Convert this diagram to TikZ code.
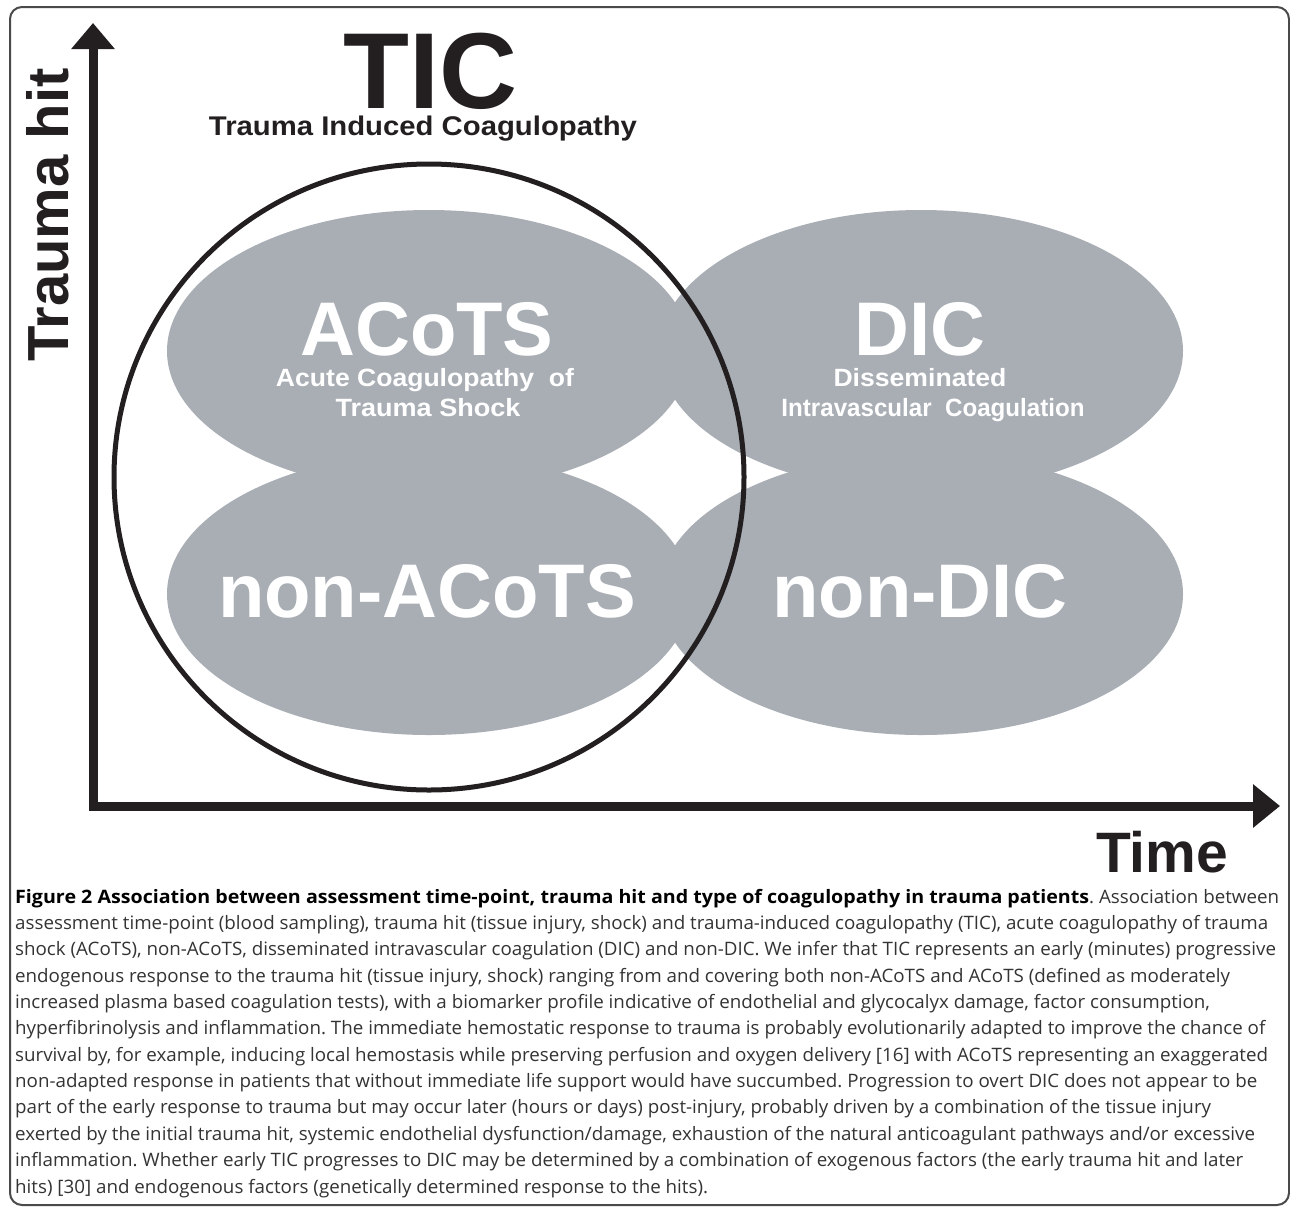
\documentclass[tikz,border=0pt]{standalone}
\usepackage{fontspec}
\usepackage{graphicx}
\setmainfont{Liberation Sans}
\newfontfamily\capfont{Open Sans}
\usetikzlibrary{arrows.meta}
\definecolor{ellgray}{HTML}{A9AEB5}
\definecolor{ink}{HTML}{231F20}
\definecolor{capgray}{HTML}{333333}
\definecolor{framegray}{HTML}{4A4A4A}
\newcommand\wfit[2]{\resizebox{#1}{\height}{#2}}
\newlength\capw
\newcommand\cl[1]{\scalebox{\capstretch}[1]{#1}}
\tikzset{
  ellfill/.style={fill=ellgray},
  bigwhite/.style={font=\bfseries\fontsize{76}{76}\selectfont, text=white, anchor=base, inner sep=0pt, text depth=0pt},
  subwhite/.style={font=\bfseries\fontsize{25}{25}\selectfont, text=white, anchor=base, inner sep=0pt, text depth=0pt},
  axislabel/.style={font=\bfseries\fontsize{57}{57}\selectfont, text=ink, anchor=base, inner sep=0pt},
  capline/.style={font=\capfont\fontsize{18.5}{20}\selectfont\frenchspacing, text=capgray, anchor=base west, inner sep=0pt},
}
\begin{document}
\settowidth{\capw}{\capfont\fontsize{18.5}{20}\selectfont\frenchspacing assessment time-point (blood sampling), trauma hit (tissue injury, shock) and trauma-induced coagulopathy (TIC), acute coagulopathy of trauma}%
\pgfmathsetmacro\capstretch{1253/(\capw/1pt)}%
\begin{tikzpicture}[x=1pt,y=-1pt]
\useasboundingbox (0,0) rectangle (1290,1208);
% frame
\draw[framegray, line width=2pt, rounded corners=12pt] (10,7) rectangle (1289,1205);
% ellipses
\fill[ellfill] (429,351) ellipse [x radius=262pt, y radius=141pt];
\fill[ellfill] (921,351) ellipse [x radius=262pt, y radius=141pt];
\fill[ellfill] (429,594) ellipse [x radius=262pt, y radius=141pt];
\fill[ellfill] (921,594) ellipse [x radius=262pt, y radius=141pt];
% big circle
\draw[ink, line width=5pt] (429,477) ellipse [x radius=315pt, y radius=313pt];
% axes
\coordinate (ytop) at (93,23);
\coordinate (orig) at (93,806);
\coordinate (xend) at (1280,806);
\draw[ink, line width=9pt, line join=miter, {Triangle[length=26pt,width=42pt]}-{Triangle[length=27pt,width=42pt]}] (ytop) -- (orig) -- (xend);
% titles
\node[font=\bfseries\fontsize{108}{108}\selectfont, text=ink, anchor=base, inner sep=0pt, text depth=0pt] (tic) at (430,108) {TIC};
\node[font=\bfseries\fontsize{27}{27}\selectfont, text=ink, anchor=base, inner sep=0pt] (ticsub) at (423,135) {\wfit{428pt}{Trauma Induced Coagulopathy}};
\node[axislabel] (time) at (1162,872) {Time};
\node[axislabel, font=\bfseries\fontsize{58}{58}\selectfont, rotate=90] (hit) at (68,215) {Trauma hit};
% ellipse labels
\node[bigwhite] (acots) at (427,355) {ACoTS};
\node[subwhite] (acotsa) at (425,386) {\wfit{298pt}{Acute Coagulopathy\ \ of}};
\node[subwhite] (acotsb) at (428,416) {\wfit{185pt}{Trauma Shock}};
\node[bigwhite] (dic) at (920,355) {DIC};
\node[subwhite] (dica) at (920,386) {\wfit{173pt}{Disseminated}};
\node[subwhite] (dicb) at (933,416) {\wfit{303pt}{Intravascular\ \ Coagulation}};
\node[bigwhite] (nonacots) at (427,617) {non-ACoTS};
\node[bigwhite] (nondic) at (920,617) {non-DIC};
% caption
\node[capline] (c1) at (15,903) {\cl{\scalebox{1.047}[1]{\textbf{\color{black}Figure 2 Association between assessment time-point, trauma hit and type of coagulopathy in trauma patients}}. Association between}};
\node[capline] (c2) at (15,929.4) {\cl{assessment time-point (blood sampling), trauma hit (tissue injury, shock) and trauma-induced coagulopathy (TIC), acute coagulopathy of trauma}};
\node[capline] (c3) at (15,955.7) {\cl{shock (ACoTS), non-ACoTS, disseminated intravascular coagulation (DIC) and non-DIC. We infer that TIC represents an early (minutes) progressive}};
\node[capline] (c4) at (15,982.1) {\cl{endogenous response to the trauma hit (tissue injury, shock) ranging from and covering both non-ACoTS and ACoTS (defined as moderately}};
\node[capline] (c5) at (15,1008.4) {\cl{increased plasma based coagulation tests), with a biomarker profile indicative of endothelial and glycocalyx damage, factor consumption,}};
\node[capline] (c6) at (15,1034.8) {\cl{hyperfibrinolysis and inflammation. The immediate hemostatic response to trauma is probably evolutionarily adapted to improve the chance of}};
\node[capline] (c7) at (15,1061.2) {\cl{survival by, for example, inducing local hemostasis while preserving perfusion and oxygen delivery [16] with ACoTS representing an exaggerated}};
\node[capline] (c8) at (15,1087.5) {\cl{non-adapted response in patients that without immediate life support would have succumbed. Progression to overt DIC does not appear to be}};
\node[capline] (c9) at (15,1113.9) {\cl{part of the early response to trauma but may occur later (hours or days) post-injury, probably driven by a combination of the tissue injury}};
\node[capline] (c10) at (15,1140.2) {\cl{exerted by the initial trauma hit, systemic endothelial dysfunction/damage, exhaustion of the natural anticoagulant pathways and/or excessive}};
\node[capline] (c11) at (15,1166.6) {\cl{inflammation. Whether early TIC progresses to DIC may be determined by a combination of exogenous factors (the early trauma hit and later}};
\node[capline] (c12) at (15,1193) {\cl{hits) [30] and endogenous factors (genetically determined response to the hits).}};
\end{tikzpicture}
\end{document}
